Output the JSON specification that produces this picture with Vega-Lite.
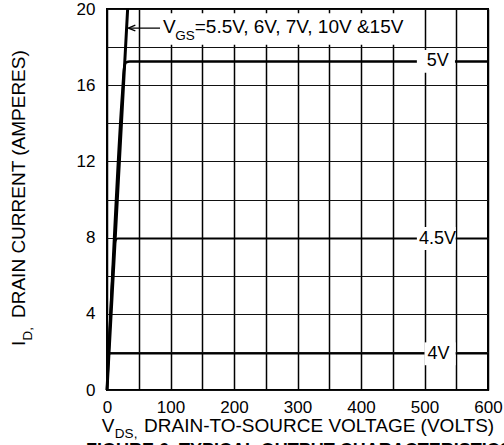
{
  "$schema": "https://vega.github.io/schema/vega-lite/v6.json",
  "width": 381,
  "height": 381,
  "autosize": {"type": "none"},
  "padding": {"left": 107, "top": 9, "right": 16, "bottom": 55},
  "background": "white",
  "config": {"view": {"stroke": "black", "strokeWidth": 2}, "font": "Liberation Sans", "text": {"font": "Liberation Sans", "color": "black"}},
  "datasets": {
    "curves": [
      {"s": "5.5V+", "v": 0, "i": 0},
      {"s": "5.5V+", "v": 13, "i": 8},
      {"s": "5.5V+", "v": 26, "i": 16},
      {"s": "5.5V+", "v": 32.5, "i": 20},
      {"s": "5V", "v": 0, "i": 0},
      {"s": "5V", "v": 24, "i": 15.6},
      {"s": "5V", "v": 27, "i": 16.9},
      {"s": "5V", "v": 30, "i": 17.2},
      {"s": "5V", "v": 36, "i": 17.25},
      {"s": "5V", "v": 600, "i": 17.25},
      {"s": "4.5V", "v": 0, "i": 0},
      {"s": "4.5V", "v": 11, "i": 7.2},
      {"s": "4.5V", "v": 13.5, "i": 7.85},
      {"s": "4.5V", "v": 17, "i": 7.95},
      {"s": "4.5V", "v": 600, "i": 7.95},
      {"s": "4V", "v": 0, "i": 0},
      {"s": "4V", "v": 2.5, "i": 1.6},
      {"s": "4V", "v": 4, "i": 1.88},
      {"s": "4V", "v": 6, "i": 1.9},
      {"s": "4V", "v": 600, "i": 1.9}
    ],
    "boxes": [
      {"v": 488, "v2": 548, "i": 16.65, "i2": 17.85},
      {"v": 488, "v2": 549, "i": 7.35, "i2": 8.55},
      {"v": 500, "v2": 549, "i": 1.3, "i2": 2.5},
      {"v": 80, "v2": 487, "i": 18.12, "i2": 19.78}
    ],
    "curveLabels": [
      {"t": "5V", "v": 521, "i": 17.25},
      {"t": "4.5V", "v": 520.5, "i": 7.95},
      {"t": "4V", "v": 522, "i": 1.9}
    ],
    "notes": [
      {"t": "V", "v": 88.2, "i": 18.73, "r": "main"},
      {"t": "GS", "v": 107.5, "i": 18.37, "r": "sub"},
      {"t": "=5.5V, 6V, 7V, 10V &15V", "v": 138.2, "i": 18.73, "r": "main"}
    ],
    "xtitle": [
      {"t": "V", "v": -8.4, "i": -2.19, "r": "main"},
      {"t": "DS,", "v": 12.4, "i": -2.52, "r": "sub"},
      {"t": "DRAIN-TO-SOURCE VOLTAGE (VOLTS)", "v": 58.3, "i": -2.19, "r": "main"}
    ],
    "ytitle": [
      {"t": "I", "v": -129.1, "i": 2.31, "r": "main"},
      {"t": "D,", "v": -118.1, "i": 2.6, "r": "sub"},
      {"t": "DRAIN CURRENT (AMPERES)", "v": -129.1, "i": 3.78, "r": "main"}
    ],
    "caption": [
      {"t": "FIGURE 6. TYPICAL OUTPUT CHARACTERISTICS", "v": -33, "i": -3.45}
    ],
    "arrow": [
      {"v": 33.5, "i": 19.0},
      {"v": 83.5, "i": 19.0}
    ],
    "arrowTip": [
      {"v": 33.5, "i": 19.0}
    ]
  },
  "encoding": {
    "x": {
      "field": "v",
      "type": "quantitative",
      "scale": {"domain": [0, 600], "nice": false, "zero": false},
      "axis": {
        "values": [0, 50, 100, 150, 200, 250, 300, 350, 400, 450, 500, 550, 600],
        "grid": true,
        "gridColor": "#000000",
        "gridWidth": 1.5,
        "gridOpacity": 1,
        "labelOpacity": {"condition": {"test": "datum.value % 100 === 0", "value": 1}, "value": 0},
        "ticks": false,
        "tickSize": 0,
        "domain": false,
        "labelFontSize": 17,
        "labelFont": "Liberation Sans",
        "labelColor": "black",
        "labelPadding": 9,
        "labelFlush": false,
        "labelOverlap": false,
        "title": null,
        "zindex": 0
      }
    },
    "y": {
      "field": "i",
      "type": "quantitative",
      "scale": {"domain": [0, 20], "nice": false, "zero": false},
      "axis": {
        "values": [0, 2, 4, 6, 8, 10, 12, 14, 16, 18, 20],
        "grid": true,
        "gridColor": "#111111",
        "gridWidth": 1,
        "gridOpacity": 1,
        "labelOpacity": {"condition": {"test": "datum.value % 4 === 0", "value": 1}, "value": 0},
        "ticks": false,
        "tickSize": 0,
        "domain": false,
        "labelFontSize": 17,
        "labelFont": "Liberation Sans",
        "labelColor": "black",
        "labelPadding": 12,
        "labelFlush": false,
        "labelOverlap": false,
        "title": null,
        "zindex": 0
      }
    }
  },
  "layer": [
    {
      "data": {"name": "curves"},
      "mark": {"type": "line", "color": "black", "interpolate": "monotone"},
      "encoding": {
        "detail": {"field": "s", "type": "nominal"},
        "strokeWidth": {"field": "s", "type": "nominal", "scale": {"domain": ["5.5V+", "5V", "4.5V", "4V"], "range": [3, 1.5, 2.5, 2.5]}, "legend": null}
      }
    },
    {
      "data": {"name": "boxes"},
      "mark": {"type": "rect", "fill": "white"},
      "encoding": {
        "x2": {"field": "v2"},
        "y2": {"field": "i2"}
      }
    },
    {
      "data": {"name": "curveLabels"},
      "mark": {"type": "text", "align": "center", "baseline": "middle", "fontSize": 18, "font": "Liberation Sans", "color": "black"},
      "encoding": {"text": {"field": "t"}}
    },
    {
      "data": {"name": "notes"},
      "mark": {"type": "text", "align": "left", "baseline": "alphabetic", "font": "Liberation Sans", "color": "black"},
      "encoding": {
        "text": {"field": "t"},
        "size": {"field": "r", "type": "nominal", "scale": {"domain": ["main", "sub"], "range": [19, 13.5]}, "legend": null}
      }
    },
    {
      "data": {"name": "xtitle"},
      "mark": {"type": "text", "align": "left", "baseline": "alphabetic", "font": "Liberation Sans", "color": "black"},
      "encoding": {
        "text": {"field": "t"},
        "size": {"field": "r", "type": "nominal", "scale": {"domain": ["main", "sub"], "range": [19.8, 14]}, "legend": null}
      }
    },
    {
      "data": {"name": "ytitle"},
      "mark": {"type": "text", "align": "left", "baseline": "alphabetic", "angle": 270, "font": "Liberation Sans", "color": "black"},
      "encoding": {
        "text": {"field": "t"},
        "size": {"field": "r", "type": "nominal", "scale": {"domain": ["main", "sub"], "range": [19.5, 13.5]}, "legend": null}
      }
    },
    {
      "data": {"name": "caption"},
      "mark": {"type": "text", "align": "left", "baseline": "alphabetic", "fontSize": 18, "fontWeight": "bold", "font": "Liberation Sans", "color": "black"},
      "encoding": {"text": {"field": "t"}}
    },
    {
      "data": {"name": "arrow"},
      "mark": {"type": "line", "color": "black", "strokeWidth": 1.3},
      "encoding": {}
    },
    {
      "data": {"name": "arrowTip"},
      "mark": {"type": "point", "shape": "M0,0L1,-0.4M0,0L1,0.4", "filled": false, "stroke": "black", "strokeWidth": 1.3, "size": 200, "opacity": 1},
      "encoding": {}
    }
  ]
}
